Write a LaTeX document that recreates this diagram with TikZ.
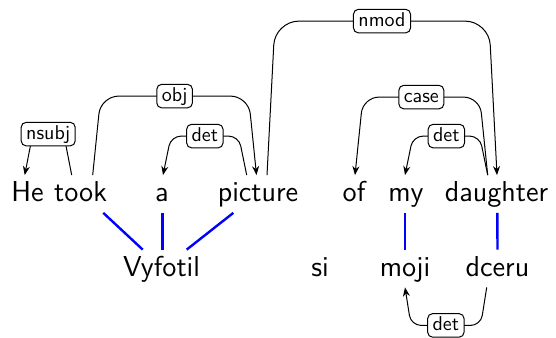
\documentclass[tikz,border=0pt]{standalone}
\usepackage{fontspec}
\usetikzlibrary{calc,arrows.meta}
\tikzset{
  word/.style={anchor=base, inner sep=0pt, text height=13pt, text depth=5.5pt,
    font=\sffamily\fontsize{14.4}{17}\selectfont},
  deplabel/.style={draw, fill=white, rounded corners=2.5pt, line width=0.5pt,
    inner xsep=2.5pt, inner ysep=1.2pt, text height=7.2pt, text depth=2.2pt,
    font=\sffamily\fontsize{10}{12}\selectfont},
  deparc/.style={line width=0.5pt, -{Stealth[length=4.5pt,width=3.5pt]}},
  alignline/.style={blue, line width=1.2pt}
}
\begin{document}
\begin{tikzpicture}[x=0.5pt,y=-0.5pt]
\useasboundingbox (0,0) rectangle (556,337);

% English sentence
\node[word] (he)       at (27.5,201.5)  {He};
\node[word] (took)     at (80.5,201.5)  {took};
\node[word] (a)        at (162,201.5)   {a};
\node[word] (picture)  at (258,201.5)   {picture};
\node[word] (of)       at (354,201.5)   {of};
\node[word] (my)       at (406,201.5)   {my};
\node[word] (daughter) at (496.5,201.5) {daughter};

% Czech sentence
\node[word] (vyfotil)  at (161.5,276) {Vyfotil};
\node[word] (si)       at (320,276)   {si};
\node[word] (moji)     at (405,276)   {moji};
\node[word] (dceru)    at (497.5,276) {dceru};

% dependency arcs above the English sentence
\draw[deparc, rounded corners=4pt] ($(took.north)+(-8.8,0)$) -- ($(took.north)+(-16.8,-41)$)
  -- ($(he.north)+(5.2,-41)$) node[deplabel, midway] {nsubj} -- ($(he.north)+(-2.8,0)$);
\draw[deparc, rounded corners=9pt] ($(took.north)+(12.2,0)$) -- ($(took.north)+(20.2,-79)$)
  -- ($(picture.north)+(-9.5,-79)$) node[deplabel, midway] {obj} -- ($(picture.north)+(-1.5,0)$);
\draw[deparc, rounded corners=5pt] ($(picture.north)+(-11.3,0)$) -- ($(picture.north)+(-19.3,-39)$)
  -- ($(a.north)+(9,-39)$) node[deplabel, midway] {det} -- ($(a.north)+(1,0)$);
\draw[deparc, rounded corners=12pt] ($(picture.north)+(9,0)$) -- ($(picture.north)+(17,-154)$)
  -- ($(daughter.north)+(-7.5,-154)$) node[deplabel, midway] {nmod} -- ($(daughter.north)+(0.5,0)$);
\draw[deparc, rounded corners=8pt] ($(daughter.north)+(-8.8,0)$) -- ($(daughter.north)+(-16.8,-78)$)
  -- ($(of.north)+(9,-78)$) node[deplabel, midway] {case} -- ($(of.north)+(1,0)$);
\draw[deparc, rounded corners=5pt] ($(daughter.north)+(-8.8,0)$) -- ($(daughter.north)+(-16.8,-39)$)
  -- ($(my.north)+(7,-39)$) node[deplabel, midway] {det} -- ($(my.north)+(-1,0)$);

% dependency arc below the Czech sentence
\draw[deparc, rounded corners=5pt] ($(dceru.south)+(-10.8,0)$) -- ($(dceru.south)+(-16.8,38)$)
  -- ($(moji.south)+(6,38)$) node[deplabel, midway] {det} -- (moji.south);

% word alignment
\draw[alignline] ($(took.south)+(22.8,0)$) -- ($(vyfotil.north)+(-18.8,0)$);
\draw[alignline] ($(a.south)+(0.3,0)$) -- ($(vyfotil.north)+(0.8,0)$);
\draw[alignline] ($(picture.south)+(-24.7,0)$) -- ($(vyfotil.north)+(25.2,0)$);
\draw[alignline] ($(my.south)+(-1,0)$) -- (moji.north);
\draw[alignline] ($(daughter.south)+(0.8,0)$) -- (dceru.north);
\end{tikzpicture}
\end{document}
